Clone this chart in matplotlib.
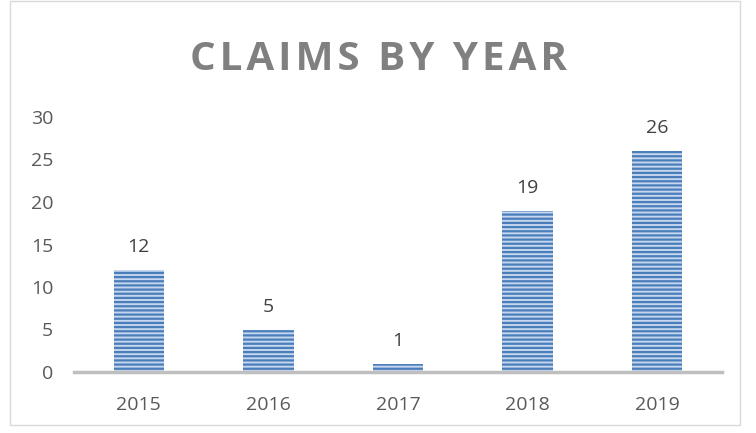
import numpy as np
import matplotlib.pyplot as plt
from matplotlib.patches import Rectangle

years = ['2015', '2016', '2017', '2018', '2019']
claims = [12, 5, 1, 19, 26]
yticks = [0, 5, 10, 15, 20, 25, 30]

plt.rcParams['font.family'] = ['Open Sans', 'DejaVu Sans']
plt.rcParams['hatch.linewidth'] = 1.6

fig = plt.figure(figsize=(7.56, 4.33), dpi=100)
# chart border
fig.patches.append(Rectangle((10 / 756, 8 / 433), 730 / 756, 424 / 433, transform=fig.transFigure,
                             fill=False, edgecolor='#d9d9d9', linewidth=1))

ax = fig.add_axes([74 / 756, (433 - 372) / 433, 648 / 756, 255 / 433])
x = np.arange(len(years))
ax.bar(x, claims, width=0.39, color='#c5d6ee', edgecolor='#4a7ebb', hatch='----', linewidth=0)

for xi, v in zip(x, claims):
    ax.annotate(str(v), (xi, v), xytext=(0, 10), textcoords='offset points',
                ha='center', va='bottom', fontsize=14, color='#404040')

ax.set_xlim(-0.5, len(years) - 0.5)
ax.set_ylim(0, 30)
ax.set_yticks(yticks)
ax.set_xticks(x)
ax.set_xticklabels(years)
ax.tick_params(length=0, labelsize=14, labelcolor='#595959')
ax.tick_params(axis='y', pad=15)
ax.tick_params(axis='x', pad=17)
for s in ['top', 'right', 'left']:
    ax.spines[s].set_visible(False)
ax.spines['bottom'].set_color('#bfbfbf')
ax.spines['bottom'].set_linewidth(2.5)

title = '\u200a'.join('CLAIMS BY YEAR')
fig.text(0.5, (433 - 59) / 433, title,
         ha='center', va='center', fontsize=29, fontweight='bold', color='#808080')

fig.savefig('out.png', dpi=100)
